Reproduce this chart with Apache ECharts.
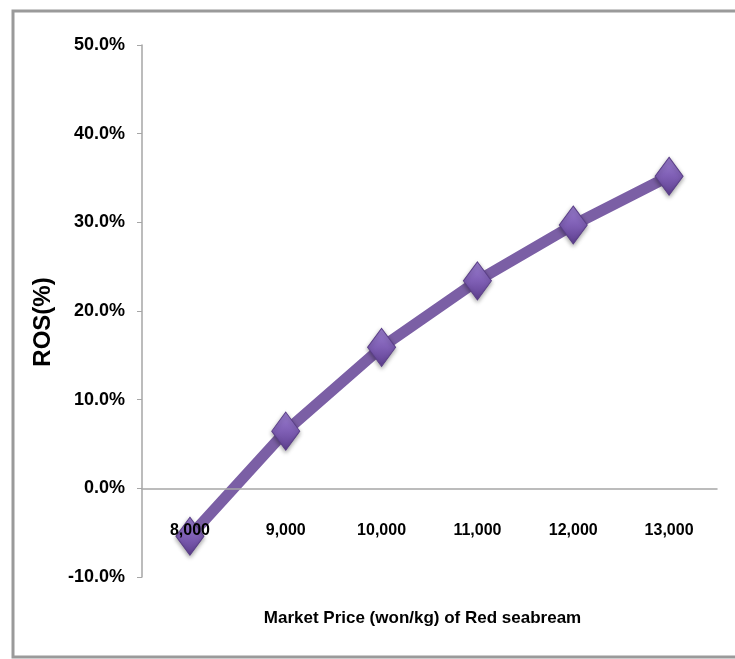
<!DOCTYPE html>
<html><head><meta charset="utf-8">
<script src="https://cdn.jsdelivr.net/npm/echarts@6/dist/echarts.min.js"></script>
<style>html,body{margin:0;padding:0;background:#fff}#c{width:735px;height:659px}</style>
</head><body><div id="c"></div>
<script>
const categories = ['8,000','9,000','10,000','11,000','12,000','13,000'];
const rosValues = [-5.4, 6.45, 15.9, 23.4, 29.7, 35.2];
const yTicks = {min: -10, max: 50, interval: 10};
const xTitle = 'Market Price (won/kg) of Red seabream';
const yTitle = 'ROS(%)';

const narrow = '"Liberation Sans Narrow","Arial Narrow","Liberation Sans",Arial,sans-serif';
const chart = echarts.init(document.getElementById('c'));
chart.setOption({
  animation: false,
  backgroundColor: '#fff',
  graphic: [{
    type: 'rect', shape: {x: 13, y: 11, width: 740, height: 646},
    style: {fill: 'none', stroke: '#9a9a9a', lineWidth: 3}, z: 100
  }],
  grid: {left: 142, right: 18, top: 45, bottom: 82, outerBoundsMode: 'none', containLabel: false},
  xAxis: {
    type: 'category', data: categories, boundaryGap: true, z: 5,
    axisLine: {onZero: true, lineStyle: {color: '#a6a6a6', width: 1.5}},
    axisTick: {show: false},
    axisLabel: {margin: -54, color: '#000', fontFamily: narrow, fontWeight: 'bold', fontSize: 16},
    name: xTitle, nameLocation: 'middle', nameGap: 33,
    nameTextStyle: {color: '#000', fontFamily: narrow, fontWeight: 'bold', fontSize: 17,
      padding: [0, 14, 0, 0]},
    splitLine: {show: false}
  },
  yAxis: {
    type: 'value', min: yTicks.min, max: yTicks.max, interval: yTicks.interval,
    axisLine: {show: true, lineStyle: {color: '#a6a6a6', width: 1.5}},
    axisTick: {show: true, length: 5, lineStyle: {color: '#a6a6a6'}},
    axisLabel: {margin: 17, color: '#000', fontFamily: narrow, fontWeight: 'bold', fontSize: 18,
      formatter: v => v.toFixed(1) + '%'},
    splitLine: {show: false},
    name: yTitle, nameLocation: 'middle', nameGap: 87, nameRotate: 90,
    nameTextStyle: {color: '#000', fontFamily: '"Liberation Sans",Arial,sans-serif', fontWeight: 'bold', fontSize: 24,
      padding: [0, 22, 0, 0]}
  },
  series: [{
    type: 'line', data: rosValues,
    lineStyle: {color: '#7b5fa5', width: 11},
    symbol: 'diamond', symbolSize: [28, 38],
    itemStyle: {
      color: new echarts.graphic.LinearGradient(0, 0, 0, 1, [
        {offset: 0, color: '#9b7fd0'}, {offset: 0.5, color: '#7f5fb5'}, {offset: 1, color: '#5e3f8f'}
      ]),
      borderColor: '#5b3f88', borderWidth: 1,
      shadowColor: 'rgba(0,0,0,0.35)', shadowBlur: 4, shadowOffsetY: 2
    },
    z: 3
  }]
});
</script></body></html>
